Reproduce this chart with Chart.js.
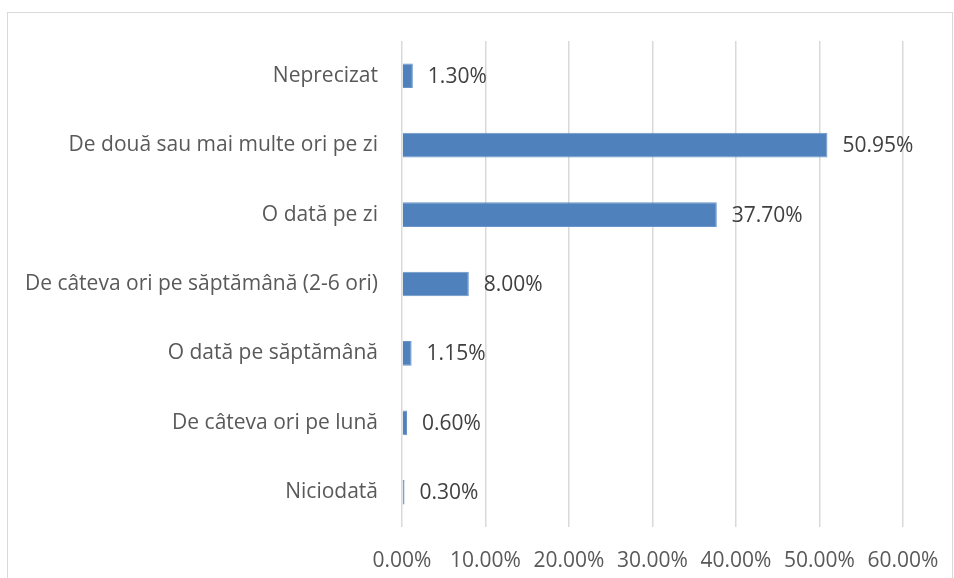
<!DOCTYPE html>
<html lang="ro">
<head>
    <meta charset="UTF-8">
    <title>Frecvență</title>
    <style>
        body {
            margin: 0;
            background-color: #ffffff;
        }
        .chart-container {
            width: 954px;
            height: 578px;
        }
    </style>
</head>
<body>
    <div class="chart-container">
        <canvas id="freqChart"></canvas>
    </div>

    <script src="https://cdn.jsdelivr.net/npm/chart.js"></script>
    <script>
        // Categories (top to bottom) and percentages
        const categories = [
            'Neprecizat',
            'De două sau mai multe ori pe zi',
            'O dată pe zi',
            'De câteva ori pe săptămână (2-6 ori)',
            'O dată pe săptămână',
            'De câteva ori pe lună',
            'Niciodată'
        ];
        const percentages = [1.30, 50.95, 37.70, 8.00, 1.15, 0.60, 0.30];
        const axisMax = 60;
        const axisStep = 10;

        const fontFamily = '"Open Sans", sans-serif';
        const fontSize = 21;

        // Border around the whole chart
        const frame = {
            id: 'frame',
            beforeDraw(chart) {
                const ctx = chart.ctx;
                ctx.save();
                ctx.strokeStyle = '#d9d9d9';
                ctx.lineWidth = 1;
                ctx.strokeRect(7.5, 12.5, 945, 600);
                ctx.restore();
            }
        };

        // Value labels to the right of each bar
        const valueLabels = {
            id: 'valueLabels',
            afterDatasetsDraw(chart) {
                const ctx = chart.ctx;
                const meta = chart.getDatasetMeta(0);
                ctx.save();
                ctx.font = fontSize + 'px ' + fontFamily;
                ctx.fillStyle = '#404040';
                ctx.textBaseline = 'middle';
                ctx.textAlign = 'left';
                meta.data.forEach((bar, i) => {
                    ctx.fillText(percentages[i].toFixed(2) + '%', bar.x + 15, bar.y + 1);
                });
                ctx.restore();
            }
        };

        const ctx = document.getElementById('freqChart').getContext('2d');
        new Chart(ctx, {
            type: 'bar',
            data: {
                labels: categories,
                datasets: [{
                    data: percentages,
                    backgroundColor: '#4f81bd',
                    borderColor: '#6a95c9',
                    borderWidth: 1,
                    categoryPercentage: 0.71,
                    barPercentage: 0.5
                }]
            },
            options: {
                indexAxis: 'y',
                responsive: true,
                maintainAspectRatio: false,
                animation: false,
                layout: { padding: { top: 41, right: 51, bottom: 0, left: 0 } },
                plugins: {
                    legend: { display: false },
                    tooltip: { enabled: false }
                },
                scales: {
                    x: {
                        min: 0,
                        max: axisMax,
                        ticks: {
                            stepSize: axisStep,
                            padding: 21,
                            maxRotation: 0,
                            color: '#595959',
                            font: { family: fontFamily, size: fontSize },
                            callback: v => v.toFixed(2) + '%'
                        },
                        grid: { color: '#d9d9d9', lineWidth: 1.5, drawTicks: false },
                        border: { display: false },
                        afterFit(scale) {
                            scale.height = 51;
                            scale.paddingLeft = 0;
                            scale.paddingRight = 0;
                        }
                    },
                    y: {
                        ticks: {
                            padding: 16,
                            color: '#595959',
                            font: { family: fontFamily, size: fontSize }
                        },
                        grid: { display: false },
                        border: { display: false },
                        afterFit(scale) { scale.width = 402; }
                    }
                }
            },
            plugins: [frame, valueLabels]
        });
    </script>
</body>
</html>
